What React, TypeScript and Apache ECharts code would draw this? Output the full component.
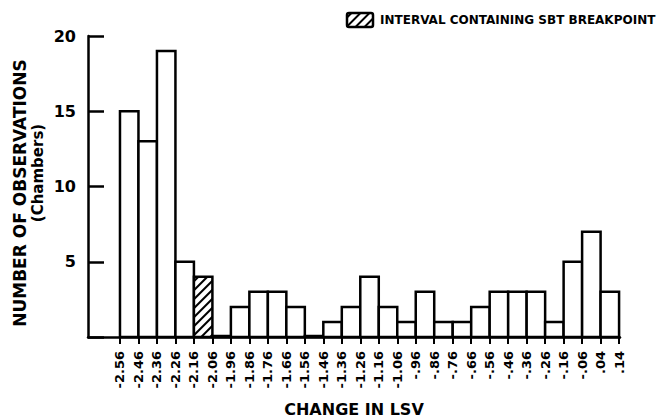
import React, { useEffect, useRef } from "react";
import * as echarts from "echarts";

// Bin boundaries (tick labels on the x axis)
const edgeLabels = [
  "-2.56", "-2.46", "-2.36", "-2.26", "-2.16", "-2.06", "-1.96", "-1.86",
  "-1.76", "-1.66", "-1.56", "-1.46", "-1.36", "-1.26", "-1.16", "-1.06",
  "-.96", "-.86", "-.76", "-.66", "-.56", "-.46", "-.36", "-.26", "-.16",
  "-.06", ".04", ".14",
];
// Number of observations per bin
const counts = [15, 13, 19, 5, 4, 0, 2, 3, 3, 2, 0, 1, 2, 4, 2, 1, 3, 1, 1, 2, 3, 3, 3, 1, 5, 7, 3];
// Bin that contains the SBT breakpoint (-2.16 .. -2.06)
const breakpointBin = 4;

const edges = edgeLabels.map((s) => parseFloat(s));

const FONT = "DejaVu Sans";
const LW = 2.5;

function hatchLines(x0: number, y0: number, w: number, h: number, step: number, lw: number) {
  const x1 = x0 + w;
  const y1 = y0 + h;
  const out: any[] = [];
  for (let c = x0 + y0 + step / 2; c < x1 + y1; c += step) {
    const xa = Math.max(x0, c - y1);
    const xb = Math.min(x1, c - y0);
    if (xb - xa > 0.5) {
      out.push({
        type: "line",
        shape: { x1: xa, y1: c - xa, x2: xb, y2: c - xb },
        style: { stroke: "#000", lineWidth: lw },
        silent: true,
      });
    }
  }
  return out;
}

export default function App() {
  const ref = useRef<HTMLDivElement>(null);
  useEffect(() => {
    if (!ref.current) return;
    const chart = echarts.init(ref.current, undefined, { renderer: "svg" });
    const data = counts.map((c, i) => [edges[i], edges[i + 1], c, i === breakpointBin ? 1 : 0]);
    const labelFor = (v: number) => {
      let best = 0;
      let bd = Infinity;
      edges.forEach((e, i) => {
        const d = Math.abs(e - v);
        if (d < bd) {
          bd = d;
          best = i;
        }
      });
      return bd < 0.001 ? edgeLabels[best] : "";
    };
    const legendX = 347;
    const legendY = 13;
    chart.setOption({
      animation: false,
      backgroundColor: "#fff",
      grid: {
        left: 88,
        right: 43,
        top: 36,
        bottom: 82,
        containLabel: false,
        outerBoundsMode: "none",
      },
      xAxis: {
        type: "value",
        min: -2.733,
        max: 0.145,
        splitLine: { show: false },
        axisLine: { show: true, onZero: false, lineStyle: { color: "#000", width: LW } },
        axisTick: {
          show: true,
          inside: false,
          length: 7,
          customValues: edges,
          lineStyle: { color: "#000", width: 2 },
        },
        axisLabel: {
          show: true,
          rotate: 90,
          margin: 14,
          customValues: edges,
          formatter: (v: number) => labelFor(v),
          color: "#000",
          fontFamily: FONT,
          fontWeight: "bold",
          fontSize: 13,
        },
        name: "CHANGE IN LSV",
        nameLocation: "middle",
        nameGap: 64,
        nameTextStyle: { color: "#000", fontFamily: FONT, fontWeight: "bold", fontSize: 16 },
      },
      yAxis: {
        type: "value",
        min: 0,
        max: 20,
        interval: 5,
        splitLine: { show: false },
        axisLine: { show: true, onZero: false, lineStyle: { color: "#000", width: LW } },
        axisTick: { show: true, inside: true, length: 16, lineStyle: { color: "#000", width: LW } },
        axisLabel: {
          margin: 12,
          formatter: (v: number) => (v === 0 ? "" : String(v)),
          color: "#000",
          fontFamily: FONT,
          fontWeight: "bold",
          fontSize: 16,
        },
      },
      graphic: [
        {
          type: "text",
          x: 20,
          y: 193,
          rotation: Math.PI / 2,
          style: {
            text: "NUMBER OF OBSERVATIONS",
            fill: "#000",
            font: `bold 17px "${FONT}"`,
            align: "center",
            verticalAlign: "middle",
          },
        },
        {
          type: "text",
          x: 38,
          y: 173,
          rotation: Math.PI / 2,
          style: {
            text: "(Chambers)",
            fill: "#000",
            font: `bold 15px "${FONT}"`,
            align: "center",
            verticalAlign: "middle",
          },
        },
        {
          type: "group",
          children: [
            {
              type: "rect",
              shape: { x: legendX, y: legendY, width: 26, height: 14, r: 2 },
              style: { fill: "#fff", stroke: "#000", lineWidth: LW },
            },
            ...hatchLines(legendX, legendY, 26, 14, 9, 2),
            {
              type: "text",
              x: 380,
              y: 20,
              style: {
                text: "INTERVAL CONTAINING SBT BREAKPOINT",
                fill: "#000",
                font: `bold 12px "${FONT}"`,
                align: "left",
                verticalAlign: "middle",
              },
            },
          ],
        },
      ],
      series: [
        {
          type: "custom",
          data,
          encode: { x: [0, 1], y: 2 },
          renderItem: (params: any, api: any) => {
            const top = api.coord([api.value(0), api.value(2)]);
            const bot = api.coord([api.value(1), 0]);
            const x = top[0];
            const y = top[1];
            const w = bot[0] - top[0];
            const h = bot[1] - top[1];
            const children: any[] = [
              {
                type: "rect",
                shape: { x, y: h > 0 ? y : y - 1, width: w, height: h > 0 ? h : 1 },
                style: { fill: "#fff", stroke: "#000", lineWidth: LW },
              },
            ];
            if (api.value(3) === 1) {
              children.push(...hatchLines(x, y, w, h, 9, 2));
            }
            return { type: "group", children };
          },
        },
      ],
    });
    return () => chart.dispose();
  }, []);
  return (
    <div
      ref={ref}
      style={{ position: "fixed", left: 0, top: 0, width: 663, height: 419 }}
    />
  );
}
